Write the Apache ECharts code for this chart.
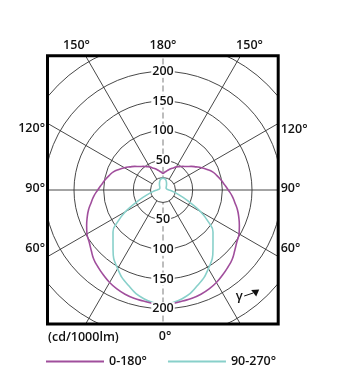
<!DOCTYPE html>
<html><head><meta charset="utf-8">
<script src="https://cdn.jsdelivr.net/npm/echarts@6/dist/echarts.min.js"></script>
<style>html,body{margin:0;padding:0;background:#fff}#c{width:338px;height:391px}</style>
</head><body><div id="c"></div>
<script>
// gamma angle (0 = down, 180 = up), values in cd/1000lm
const gammaMag = [0,5,10,15,20,25,30,35,40,45,50,55,60,65,70,75,80,85,90,95,100,105,110,115,120,125,130,135,140,145,150,155,160,165,170,175,180];
const plane0to180 = [193,192,190,189,187,184,180,175,170,165,158,152,148,142,136,130,123,117,110,104,99,94,89,82,75,68,62,56,52,48,45,41,38,35,32,30,28];
const gammaCya = [0,10,20,30,40,50,55,60,65,70,75,80,85,90,100,110,120,130,140,150,160,170,180];
const plane90to270 = [193,186,171,153,131,110,93,73,51,36,25,18,14,10,7,6,6,7,9,12,16,19,20];
const radiusTicks = [50,100,150,200];
const angleTicks = [60,90,120,150,180];
const bottomAngleLabel = '0°';
const seriesNames = ['0-180°','90-270°'];
const unitLabel = '(cd/1000lm)';
const gammaSymbol = 'γ';

const FONT = '"Open Sans", "Noto Sans", sans-serif';
const FW = '600 ';
const MAG = '#a04e9c', CYA = '#88d0ca';
const CX = 163, CY = 190, R = 178, RMAX = 300;
const box = {x1:47.5, y1:55.8, x2:278.2, y2:324};

function mirror(angles, vals){
  const pts = [];
  for (let i = 0; i < vals.length; i++) pts.push([vals[i], angles[i]]);
  for (let i = vals.length - 2; i >= 0; i--) pts.push([vals[i], 360 - angles[i]]);
  return pts;
}
const rayColors = [];
for (let a = 0; a < 360; a += 30) rayColors.push((a === 0 || a === 180) ? 'rgba(0,0,0,0)' : '#333');

const chart = echarts.init(document.getElementById('c'), null, {renderer:'canvas'});
const dashed = {show:true, lineStyle:{color:'#a8a8a8', width:1.5, type:[5,4]}};
chart.setOption({
  animation:false,
  backgroundColor:'#fff',
  polar:[{center:[CX,CY], radius:R},{center:[CX,CY], radius:R}],
  angleAxis:[
    {polarIndex:0, type:'value', min:0, max:360, interval:30, startAngle:270, clockwise:true,
     axisLine:{show:false}, axisTick:{show:false}, axisLabel:{show:false},
     splitLine:{show:true, lineStyle:{color:rayColors, width:0.9}}},
    {polarIndex:1, type:'value', min:0, max:360, interval:30, startAngle:90, clockwise:true,
     axisLine:{show:false}, axisTick:{show:false}, axisLabel:{show:false}, splitLine:{show:false}}
  ],
  radiusAxis:[
    {polarIndex:0, type:'value', min:0, max:RMAX, interval:50, axisLine:dashed, axisTick:{show:false},
     axisLabel:{show:false}, splitLine:{show:true, lineStyle:{color:'#333', width:0.9}}},
    {polarIndex:1, type:'value', min:0, max:RMAX, interval:50, axisLine:dashed, axisTick:{show:false},
     axisLabel:{show:false}, splitLine:{show:false}}
  ],
  legend:{data:seriesNames, left:46, top:355, padding:0, icon:'rect', itemWidth:58, itemHeight:2, itemGap:21,
    textStyle:{fontFamily:FONT, fontSize:12.5, fontWeight:600, color:'#111'}},
  series:[
    {name:seriesNames[1], type:'line', coordinateSystem:'polar', polarIndex:0, data:mirror(gammaCya, plane90to270),
     smooth:0.5, showSymbol:false, lineStyle:{color:CYA, width:1.6}, itemStyle:{color:CYA}, z:2},
    {name:seriesNames[0], type:'line', coordinateSystem:'polar', polarIndex:0, data:mirror(gammaMag, plane0to180),
     smooth:0.5, showSymbol:false, lineStyle:{color:MAG, width:1.6}, itemStyle:{color:MAG}, z:2}
  ]
});

function px(r, th){ return chart.convertToPixel({seriesIndex:0}, [r, th]); }
function rayHit(th){
  const c = px(0, th), p = px(100, th);
  const dx = p[0]-c[0], dy = p[1]-c[1];
  let t = Infinity, edge = '';
  if (dx > 1e-6 && (box.x2-c[0])/dx < t){ t=(box.x2-c[0])/dx; edge='r'; }
  if (dx < -1e-6 && (box.x1-c[0])/dx < t){ t=(box.x1-c[0])/dx; edge='l'; }
  if (dy > 1e-6 && (box.y2-c[1])/dy < t){ t=(box.y2-c[1])/dy; edge='b'; }
  if (dy < -1e-6 && (box.y1-c[1])/dy < t){ t=(box.y1-c[1])/dy; edge='t'; }
  return {x:c[0]+dx*t, y:c[1]+dy*t, edge, dx, dy};
}
const txt = (x, y, s, align, extra) => Object.assign({type:'text', x, y, z:20,
  style:Object.assign({text:s, fill:'#111', font:FW+'12.5px '+FONT, textAlign:align||'center', textVerticalAlign:'middle'}, extra||{})});

const g = [];
// white covers outside the frame
g.push({type:'rect', z:3, shape:{x:0,y:0,width:338,height:box.y1}, style:{fill:'#fff'}});
g.push({type:'rect', z:3, shape:{x:0,y:box.y2,width:338,height:391-box.y2}, style:{fill:'#fff'}});
g.push({type:'rect', z:3, shape:{x:0,y:0,width:box.x1,height:391}, style:{fill:'#fff'}});
g.push({type:'rect', z:3, shape:{x:box.x2,y:0,width:338-box.x2,height:391}, style:{fill:'#fff'}});
// inner small circle
const c0 = px(0,0), c21 = px(21,0);
g.push({type:'circle', z:1, shape:{cx:c0[0], cy:c0[1], r:Math.abs(c21[1]-c0[1])}, style:{fill:'#fff', stroke:'#333', lineWidth:0.9}});
// frame
g.push({type:'rect', z:10, shape:{x:box.x1,y:box.y1,width:box.x2-box.x1,height:box.y2-box.y1}, style:{fill:null, stroke:'#000', lineWidth:3}});
// radius labels up and down
radiusTicks.forEach(v => {
  [0,180].forEach(th => {
    const p = px(v, th);
    g.push(txt(p[0], p[1], String(v), 'center', {backgroundColor:'#fff', padding:[0,1]}));
  });
});
// angle labels
angleTicks.forEach(a => {
  const ths = a === 180 ? [180] : [a, 360-a];
  ths.forEach(th => {
    const h = rayHit(th);
    const s = a + '°';
    if (h.edge === 't') g.push(txt(h.x + Math.sign(h.dx)*9, h.y - 10.5, s, 'center'));
    else if (h.edge === 'l') g.push(txt(box.x1 - 2.5, h.y + Math.sign(CY - h.y)*7 - 1.5, s, 'right'));
    else if (h.edge === 'r') g.push(txt(box.x2 + 2.5, h.y + Math.sign(CY - h.y)*7 - 1.5, s, 'left'));
  });
});
const hb = rayHit(0);
g.push(txt(hb.x + 2, hb.y + 12.5, bottomAngleLabel, 'center'));
g.push(txt(box.x1 + 0.5, hb.y + 13, unitLabel, 'left'));
// gamma direction mark
g.push(txt(box.x2 - 39, box.y2 - 28, gammaSymbol, 'center', {font:FW+'13px '+FONT}));
g.push({type:'line', z:20, shape:{x1:box.x2-34, y1:box.y2-28, x2:box.x2-25, y2:box.y2-31}, style:{stroke:'#111', lineWidth:1}});
g.push({type:'polygon', z:20, shape:{points:[[box.x2-27,box.y2-34],[box.x2-19,box.y2-34.5],[box.x2-22,box.y2-27.5]]}, style:{fill:'#111'}});
chart.setOption({graphic:g});
</script></body></html>
